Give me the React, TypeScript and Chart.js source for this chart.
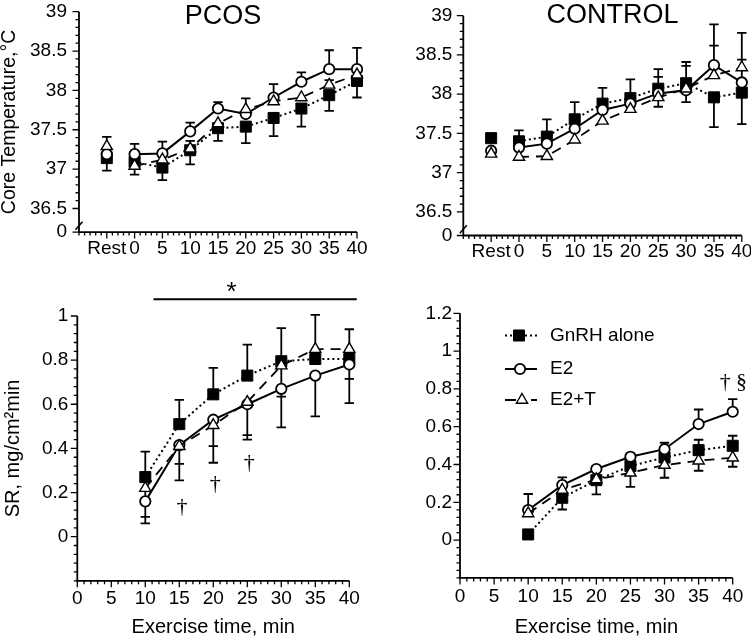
import React, { useEffect, useRef } from 'react';
import { Chart, registerables } from 'chart.js';

Chart.register(...registerables);

// ---------------- data ----------------
const SERIES_NAMES = ['GnRH alone', 'E2', 'E2+T'];

const TEMP_TIMES = [-5, 0, 5, 10, 15, 20, 25, 30, 35, 40];
const TEMP_X_TICKS = [-5, 0, 5, 10, 15, 20, 25, 30, 35, 40];
const TEMP_X_LABELS = ['Rest', '0', '5', '10', '15', '20', '25', '30', '35', '40'];
const TEMP_Y_TICKS = [36.2, 36.5, 37, 37.5, 38, 38.5, 39];
const TEMP_Y_LABELS = ['0', '36.5', '37', '37.5', '38', '38.5', '39'];

// signed error bars: positive drawn upward, negative drawn downward, 0 = none shown
const PCOS_TEMP_GNRH = [37.14, 37.09, 37.02, 37.24, 37.52, 37.54, 37.65, 37.77, 37.94, 38.12];
const PCOS_TEMP_GNRH_ERR = [-0.16, -0.16, -0.16, -0.18, -0.16, -0.21, -0.23, -0.23, -0.2, -0.21];
const PCOS_TEMP_E2 = [37.19, 37.19, 37.2, 37.48, 37.77, 37.7, 37.91, 38.11, 38.27, 38.27];
const PCOS_TEMP_E2_ERR = [0, 0.13, 0.15, 0.11, 0.08, 0, 0.17, 0.12, 0.24, 0.27];
const PCOS_TEMP_E2T = [37.29, 37.04, 37.12, 37.26, 37.58, 37.76, 37.86, 37.91, 38.07, 38.2];
const PCOS_TEMP_E2T_ERR = [0.12, 0, 0, 0.1, 0, 0.14, 0, 0, 0.06, 0];

const CONTROL_TEMP_GNRH = [37.44, 37.4, 37.46, 37.68, 37.88, 37.95, 38.07, 38.14, 37.96, 38.02];
const CONTROL_TEMP_GNRH_ERR = [0, 0.14, 0.22, 0.22, 0.2, 0.24, 0.25, 0.27, -0.38, -0.4];
const CONTROL_TEMP_E2 = [37.28, 37.32, 37.37, 37.56, 37.8, 37.88, 38.01, 38.05, 38.37, 38.15];
const CONTROL_TEMP_E2_ERR = [0, 0, 0, 0, 0, 0, 0.21, -0.15, 0.52, 0.63];
const CONTROL_TEMP_E2T = [37.24, 37.2, 37.21, 37.42, 37.66, 37.81, 37.96, 38.07, 38.24, 38.34];
const CONTROL_TEMP_E2T_ERR = [0, 0, 0, 0, 0, 0, -0.12, 0.29, 0.38, 0.1];

const SR_TIMES = [10, 15, 20, 25, 30, 35, 40];
const SR_X_TICKS = [0, 5, 10, 15, 20, 25, 30, 35, 40];
const SR_X_LABELS = ['0', '5', '10', '15', '20', '25', '30', '35', '40'];
const PCOS_SR_Y_TICKS = [0, 0.2, 0.4, 0.6, 0.8, 1];
const PCOS_SR_Y_LABELS = ['0', '0.2', '0.4', '0.6', '0.8', '1'];
const CONTROL_SR_Y_TICKS = [0, 0.2, 0.4, 0.6, 0.8, 1, 1.2];
const CONTROL_SR_Y_LABELS = ['0', '0.2', '0.4', '0.6', '0.8', '1', '1.2'];

const PCOS_SR_GNRH = [0.27, 0.51, 0.645, 0.73, 0.795, 0.805, 0.805];
const PCOS_SR_GNRH_ERR = [0.115, 0.11, 0.12, 0.14, 0.15, 0, -0.09];
const PCOS_SR_E2 = [0.16, 0.415, 0.53, 0.6, 0.67, 0.73, 0.78];
const PCOS_SR_E2_ERR = [-0.1, -0.16, -0.195, -0.16, -0.175, -0.185, -0.175];
const PCOS_SR_E2T = [0.22, 0.41, 0.505, 0.61, 0.775, 0.85, 0.85];
const PCOS_SR_E2T_ERR = [-0.13, -0.08, -0.095, -0.15, -0.14, 0.155, 0.09];

const CONTROL_SR_GNRH = [0.03, 0.224, 0.317, 0.392, 0.437, 0.476, 0.499];
const CONTROL_SR_GNRH_ERR = [0, -0.062, -0.075, 0, 0, 0.055, 0.053];
const CONTROL_SR_E2 = [0.159, 0.291, 0.376, 0.441, 0.481, 0.614, 0.679];
const CONTROL_SR_E2_ERR = [0.085, 0.041, 0.017, 0.018, 0.034, 0.077, 0.067];
const CONTROL_SR_E2T = [0.141, 0.265, 0.321, 0.356, 0.397, 0.42, 0.436];
const CONTROL_SR_E2T_ERR = [0, 0, 0, -0.074, -0.067, -0.053, -0.048];

// annotation labels (x in minutes, y in axis units)
const PCOS_SR_MARKS = [
  { x: 15.4, y: 0.135, text: '†' },
  { x: 20.3, y: 0.239, text: '†' },
  { x: 25.3, y: 0.334, text: '†' },
];
const CONTROL_SR_MARKS = [
  { x: 38.9, y: 0.833, text: '†' },
  { x: 41.3, y: 0.833, text: '§' },
];
const PCOS_SR_SIG = { from: 11.2, to: 41.1, level: 1.076, text: '*', textX: 22.7, textY: 1.105 };

// ---------------- styles ----------------
const FONT = '"Liberation Sans", Arial, Helvetica, sans-serif';
const SERIF = '"Liberation Serif", "Times New Roman", serif';

const SERIES_STYLES = [
  { pointStyle: 'rect', radius: 7.8, pointBg: '#000', pointBorder: 1, dash: [2, 3], lineWidth: 2, order: 3, legendDash: [2, 3] },
  { pointStyle: 'circle', radius: 5.2, pointBg: '#fff', pointBorder: 1.8, dash: [], lineWidth: 2, order: 2, legendDash: [] },
  { pointStyle: 'triangle', radius: 6.5, pointBg: '#fff', pointBorder: 1.4, dash: [10, 7], lineWidth: 1.8, order: 1, legendDash: [11, 15] },
];

function drawMarker(ctx: CanvasRenderingContext2D, kind: string, r: number, x: number, y: number, fill: string, bw: number) {
  ctx.save();
  ctx.setLineDash([]);
  ctx.fillStyle = fill;
  ctx.strokeStyle = '#000';
  ctx.lineWidth = bw;
  ctx.beginPath();
  if (kind === 'rect') {
    const s = r * Math.SQRT1_2;
    ctx.rect(x - s, y - s, 2 * s, 2 * s);
  } else if (kind === 'circle') {
    ctx.arc(x, y, r, 0, Math.PI * 2);
  } else {
    let rad = 0;
    ctx.moveTo(x + Math.sin(rad) * r, y - Math.cos(rad) * r);
    rad += (2 * Math.PI) / 3;
    ctx.lineTo(x + Math.sin(rad) * r, y - Math.cos(rad) * r);
    rad += (2 * Math.PI) / 3;
    ctx.lineTo(x + Math.sin(rad) * r, y - Math.cos(rad) * r);
    ctx.closePath();
  }
  ctx.fill();
  ctx.stroke();
  ctx.restore();
}

function makeDecor(p: any) {
  return {
    id: 'decor',
    beforeDatasetsDraw(chart: any) {
      const { ctx, chartArea: a, scales } = chart;
      const x = scales.x;
      const y = scales.y;
      ctx.save();
      ctx.strokeStyle = '#000';
      ctx.setLineDash([]);
      // axis lines
      ctx.lineWidth = 1.8;
      ctx.beginPath();
      ctx.moveTo(a.left, a.top);
      ctx.lineTo(a.left, a.bottom);
      ctx.lineTo(a.right, a.bottom);
      ctx.stroke();
      // tick marks
      ctx.lineWidth = 1.3;
      ctx.beginPath();
      const nx = Math.round((p.x.max - p.x.min) / p.x.minorStep);
      for (let i = 0; i <= nx; i++) {
        const v = p.x.min + i * p.x.minorStep;
        const major = p.x.ticks.some((t: number) => Math.abs(t - v) < 1e-6);
        const px = x.getPixelForValue(v);
        ctx.moveTo(px, a.bottom);
        ctx.lineTo(px, a.bottom + (major ? 6.5 : 3.5));
      }
      const ny = Math.round((p.y.max - p.y.minorFrom) / p.y.minorStep);
      for (let i = 0; i <= ny; i++) {
        const v = p.y.minorFrom + i * p.y.minorStep;
        if (p.y.ticks.some((t: number) => Math.abs(t - v) < 1e-6)) continue;
        const py = y.getPixelForValue(v);
        ctx.moveTo(a.left, py);
        ctx.lineTo(a.left - 3.5, py);
      }
      p.y.ticks.forEach((t: number) => {
        const py = y.getPixelForValue(t);
        ctx.moveTo(a.left, py);
        ctx.lineTo(a.left - 6.5, py);
      });
      ctx.stroke();
      // axis break
      if (p.axisBreak !== undefined) {
        const py = y.getPixelForValue(p.axisBreak);
        ctx.lineWidth = 1.6;
        ctx.beginPath();
        ctx.moveTo(a.left - 3.5, py + 4);
        ctx.lineTo(a.left + 3.5, py - 4);
        ctx.stroke();
      }
      // error bars
      ctx.lineWidth = 1.8;
      ctx.beginPath();
      chart.data.datasets.forEach((ds: any) => {
        const errs = ds.errors || [];
        ds.data.forEach((pt: any, j: number) => {
          const e = errs[j];
          if (!e) return;
          const px = x.getPixelForValue(pt.x);
          const py0 = y.getPixelForValue(pt.y);
          const py1 = y.getPixelForValue(pt.y + e);
          ctx.moveTo(px, py0);
          ctx.lineTo(px, py1);
          ctx.moveTo(px - 4.7, py1);
          ctx.lineTo(px + 4.7, py1);
        });
      });
      ctx.stroke();
      ctx.restore();
    },
    afterDatasetsDraw(chart: any) {
      const { ctx, chartArea: a, scales } = chart;
      const x = scales.x;
      const y = scales.y;
      ctx.save();
      ctx.fillStyle = '#000';
      ctx.strokeStyle = '#000';
      if (p.heading) {
        ctx.font = `27px ${FONT}`;
        ctx.textAlign = 'center';
        ctx.textBaseline = 'alphabetic';
        ctx.fillText(p.heading.text, p.heading.x, p.heading.y);
      }
      if (p.marks) {
        ctx.font = `22px ${SERIF}`;
        ctx.textAlign = 'center';
        ctx.textBaseline = 'middle';
        p.marks.forEach((m: any) => ctx.fillText(m.text, x.getPixelForValue(m.x), y.getPixelForValue(m.y)));
      }
      if (p.sig) {
        const s = p.sig;
        ctx.lineWidth = 2;
        ctx.setLineDash([]);
        ctx.beginPath();
        const ly = y.getPixelForValue(s.level);
        ctx.moveTo(x.getPixelForValue(s.from), ly);
        ctx.lineTo(x.getPixelForValue(s.to), ly);
        ctx.stroke();
        ctx.font = `26px ${FONT}`;
        ctx.textAlign = 'center';
        ctx.textBaseline = 'middle';
        ctx.fillText(s.text, x.getPixelForValue(s.textX), y.getPixelForValue(s.textY));
      }
      if (p.legend) {
        const L = p.legend;
        SERIES_NAMES.forEach((name, i) => {
          const st = SERIES_STYLES[i];
          const ry = a.top + L.rows[i];
          ctx.save();
          ctx.lineWidth = st.lineWidth;
          ctx.setLineDash(st.legendDash);
          ctx.beginPath();
          ctx.moveTo(a.left + L.lineFrom, ry);
          ctx.lineTo(a.left + L.lineTo, ry);
          ctx.stroke();
          ctx.restore();
          drawMarker(ctx, st.pointStyle, st.radius, a.left + L.marker[i], ry, st.pointBg, st.pointBorder);
          ctx.font = `19px ${FONT}`;
          ctx.textAlign = 'left';
          ctx.textBaseline = 'middle';
          ctx.fillStyle = '#000';
          ctx.fillText(name, a.left + L.text, ry);
        });
      }
      ctx.restore();
    },
  };
}

function buildConfig(p: any) {
  const yWidth = p.area.left;
  const xHeight = p.height - p.area.bottom;
  const datasets = p.series.map((s: any, i: number) => {
    const st = SERIES_STYLES[i];
    return {
      label: SERIES_NAMES[i],
      data: p.times.map((t: number, j: number) => ({ x: t, y: s.values[j] })),
      errors: s.errors,
      borderColor: '#000',
      borderWidth: st.lineWidth,
      borderDash: st.dash,
      pointStyle: st.pointStyle,
      pointRadius: st.radius,
      pointHoverRadius: st.radius,
      pointBackgroundColor: st.pointBg,
      pointBorderColor: '#000',
      pointBorderWidth: st.pointBorder,
      tension: 0,
      fill: false,
      clip: false,
      order: st.order,
      segment: p.restGap
        ? { borderColor: (c: any) => (c.p0DataIndex === 0 ? 'rgba(0,0,0,0)' : undefined) }
        : undefined,
    };
  });
  const tickFont = { family: FONT, size: 19, lineHeight: 1.2 };
  return {
    type: 'line',
    data: { datasets },
    options: {
      animation: false,
      responsive: false,
      devicePixelRatio: 1,
      events: [],
      layout: {
        autoPadding: false,
        padding: { left: 0, top: p.area.top, right: p.width - p.area.right, bottom: 0 },
      },
      plugins: { legend: { display: false }, tooltip: { enabled: false }, title: { display: false } },
      scales: {
        x: {
          type: 'linear',
          bounds: 'data',
          min: p.x.min,
          max: p.x.max,
          afterBuildTicks: (s: any) => {
            s.ticks = p.x.ticks.map((v: number) => ({ value: v }));
          },
          afterFit: (s: any) => {
            s.height = xHeight;
            s.paddingLeft = 0;
            s.paddingRight = 0;
          },
          grid: { display: false, drawTicks: false },
          border: { display: false },
          ticks: {
            autoSkip: false,
            maxRotation: 0,
            minRotation: 0,
            padding: p.x.padding,
            color: '#000',
            font: tickFont,
            callback: (_v: any, i: number) => p.x.labels[i],
          },
          title: p.x.title
            ? { display: true, text: p.x.title, color: '#000', font: { family: FONT, size: 20, lineHeight: 1.2 }, padding: { top: 0, bottom: 0 } }
            : { display: false },
        },
        y: {
          type: 'linear',
          bounds: 'data',
          min: p.y.min,
          max: p.y.max,
          afterBuildTicks: (s: any) => {
            s.ticks = p.y.ticks.map((v: number) => ({ value: v }));
          },
          afterFit: (s: any) => {
            s.width = yWidth;
            s.paddingTop = 0;
            s.paddingBottom = 0;
          },
          grid: { display: false, drawTicks: false },
          border: { display: false },
          ticks: {
            autoSkip: false,
            padding: p.y.padding,
            color: '#000',
            font: tickFont,
            callback: (_v: any, i: number) => p.y.labels[i],
          },
          title: p.y.title
            ? { display: true, text: p.y.title, color: '#000', font: { family: FONT, size: p.y.titleSize, lineHeight: 1 }, padding: { top: p.y.titlePad, bottom: 0 } }
            : { display: false },
        },
      },
    },
    plugins: [makeDecor(p)],
  };
}

const PANELS: any[] = [
  {
    left: 0, top: 0, width: 375, height: 270,
    area: { left: 79, top: 11.7, right: 357, bottom: 232.1 },
    times: TEMP_TIMES,
    restGap: true,
    series: [
      { values: PCOS_TEMP_GNRH, errors: PCOS_TEMP_GNRH_ERR },
      { values: PCOS_TEMP_E2, errors: PCOS_TEMP_E2_ERR },
      { values: PCOS_TEMP_E2T, errors: PCOS_TEMP_E2T_ERR },
    ],
    x: { min: -10, max: 40, ticks: TEMP_X_TICKS, labels: TEMP_X_LABELS, minorStep: 1, padding: 5 },
    y: { min: 36.2, max: 39, ticks: TEMP_Y_TICKS, labels: TEMP_Y_LABELS, minorFrom: 36.5, minorStep: 0.1, padding: 12, title: 'Core Temperature,°C', titleSize: 19.5, titlePad: 0 },
    axisBreak: 36.28,
    heading: { text: 'PCOS', x: 223, y: 23.5 },
  },
  {
    left: 375, top: 0, width: 376, height: 270,
    area: { left: 88.3, top: 15.7, right: 366.8, bottom: 235.5 },
    times: TEMP_TIMES,
    restGap: true,
    series: [
      { values: CONTROL_TEMP_GNRH, errors: CONTROL_TEMP_GNRH_ERR },
      { values: CONTROL_TEMP_E2, errors: CONTROL_TEMP_E2_ERR },
      { values: CONTROL_TEMP_E2T, errors: CONTROL_TEMP_E2T_ERR },
    ],
    x: { min: -10, max: 40, ticks: TEMP_X_TICKS, labels: TEMP_X_LABELS, minorStep: 1, padding: 4.6 },
    y: { min: 36.2, max: 39, ticks: TEMP_Y_TICKS, labels: TEMP_Y_LABELS, minorFrom: 36.5, minorStep: 0.1, padding: 11 },
    axisBreak: 36.28,
    heading: { text: 'CONTROL', x: 237.5, y: 22.8 },
  },
  {
    left: 0, top: 270, width: 375, height: 369,
    area: { left: 77.3, top: 46, right: 349.3, bottom: 310.8 },
    times: SR_TIMES,
    restGap: false,
    series: [
      { values: PCOS_SR_GNRH, errors: PCOS_SR_GNRH_ERR },
      { values: PCOS_SR_E2, errors: PCOS_SR_E2_ERR },
      { values: PCOS_SR_E2T, errors: PCOS_SR_E2T_ERR },
    ],
    x: { min: 0, max: 40, ticks: SR_X_TICKS, labels: SR_X_LABELS, minorStep: 1, padding: 6.6, title: 'Exercise time, min' },
    y: { min: -0.2, max: 1, ticks: PCOS_SR_Y_TICKS, labels: PCOS_SR_Y_LABELS, minorFrom: -0.2, minorStep: 0.04, padding: 9, title: 'SR, mg/cm²min', titleSize: 20, titlePad: 3.3 },
    marks: PCOS_SR_MARKS,
    sig: PCOS_SR_SIG,
  },
  {
    left: 375, top: 270, width: 376, height: 369,
    area: { left: 85, top: 43.3, right: 357.7, bottom: 307.9 },
    times: SR_TIMES,
    restGap: false,
    series: [
      { values: CONTROL_SR_GNRH, errors: CONTROL_SR_GNRH_ERR },
      { values: CONTROL_SR_E2, errors: CONTROL_SR_E2_ERR },
      { values: CONTROL_SR_E2T, errors: CONTROL_SR_E2T_ERR },
    ],
    x: { min: 0, max: 40, ticks: SR_X_TICKS, labels: SR_X_LABELS, minorStep: 1, padding: 7.5, title: 'Exercise time, min' },
    y: { min: -0.2, max: 1.2, ticks: CONTROL_SR_Y_TICKS, labels: CONTROL_SR_Y_LABELS, minorFrom: -0.2, minorStep: 0.04, padding: 8 },
    marks: CONTROL_SR_MARKS,
    legend: { rows: [22.2, 55.7, 86.7], lineFrom: 45, lineTo: 77, marker: [59, 60, 62], text: 90 },
  },
];

function Panel({ cfg }: { cfg: any }) {
  const ref = useRef<HTMLCanvasElement | null>(null);
  useEffect(() => {
    if (!ref.current) return;
    const chart = new Chart(ref.current, buildConfig(cfg) as any);
    return () => chart.destroy();
  }, [cfg]);
  return (
    <canvas
      ref={ref}
      width={cfg.width}
      height={cfg.height}
      style={{ position: 'absolute', left: cfg.left, top: cfg.top, width: cfg.width, height: cfg.height }}
    />
  );
}

export default function App() {
  return (
    <div style={{ position: 'fixed', left: 0, top: 0, width: 751, height: 639, overflow: 'hidden', background: '#fff' }}>
      {PANELS.map((p, i) => (
        <Panel key={i} cfg={p} />
      ))}
    </div>
  );
}
